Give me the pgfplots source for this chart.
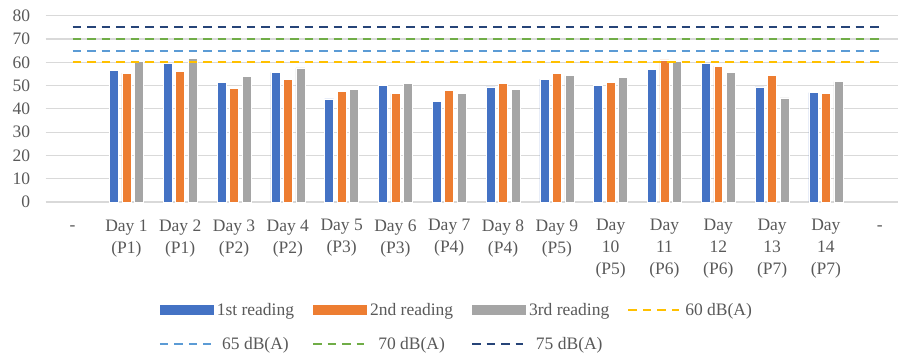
\documentclass[border=0pt]{standalone}
\usepackage{fontspec}
\setmainfont{Liberation Serif}
\usepackage{pgfplots}
\pgfplotsset{compat=1.18}
\definecolor{cBlue}{HTML}{4472C4}
\definecolor{cOrange}{HTML}{ED7D31}
\definecolor{cGray}{HTML}{A5A5A5}
\definecolor{cYellow}{HTML}{FFC000}
\definecolor{cLBlue}{HTML}{5B9BD5}
\definecolor{cGreen}{HTML}{70AD47}
\definecolor{cNavy}{HTML}{264478}
\definecolor{tgray}{HTML}{595959}
\definecolor{grid}{HTML}{D9D9D9}
\pgfplotstableread{
x b o g
1 56.5 55.3 60.3
2 59.5 56.1 61.5
3 51.5 48.9 53.8
4 55.7 52.5 57.6
5 44.3 47.5 48.5
6 50.1 46.5 51.1
7 43.3 47.9 46.5
8 49.4 51.0 48.4
9 52.8 55.2 54.3
10 50.2 51.5 53.4
11 57.0 61.0 60.3
12 59.4 58.4 55.7
13 49.4 54.2 44.7
14 47.0 46.5 51.7
}\readings
\pgfplotsset{
  barstyle/.style={fill=#1, draw=white, line width=0.6bp, ybar, bar width=0.167,
    legend image code/.code={\fill[#1] (0bp,-4.5bp) rectangle (53bp,4.5bp); \path[draw=none,fill=none] (0bp,0bp) -- (55bp,0bp);}},
  limitstyle/.style={draw=#1, line width=2bp, dash pattern=on 8.5bp off 6bp,
    legend image code/.code={\draw[#1, line width=2bp, dash pattern=on 8.5bp off 6bp] (0bp,0bp) -- (51bp,0bp); \path[draw=none,fill=none] (0bp,0bp) -- (55bp,0bp);}},
}
\begin{document}
\begin{tikzpicture}
\begin{axis}[
  scale only axis, width=852.3bp, height=186.3bp,
  xmin=-0.5, xmax=15.34, ymin=0, ymax=80,
  ytick={0,10,...,80},
  xtick={0,...,15},
  xticklabels={{\vphantom{Dy}-}, {Day 1\\(P1)}, {Day 2\\(P1)}, {Day 3\\(P2)}, {Day 4\\(P2)}, {Day 5\\(P3)}, {Day 6\\(P3)}, {Day 7\\(P4)}, {Day 8\\(P4)}, {Day 9\\(P5)}, {Day\\10\\(P5)}, {Day\\11\\(P6)}, {Day\\12\\(P6)}, {Day\\13\\(P7)}, {Day\\14\\(P7)}, {\vphantom{Dy}-}},
  /pgf/number format/assume math mode=true,
  tick label style={font=\fontsize{17.5bp}{22bp}\selectfont, text=tgray},
  xticklabel style={align=center, yshift=-14bp},
  yticklabel style={xshift=-12bp},
  major tick length=0pt,
  axis line style={draw=none},
  ymajorgrids, major grid style={draw=grid, line width=1.2bp},
  clip=false,
  legend columns=4,
  legend style={draw=none, at={(0.1290,-0.52)}, anchor=north west,
    font=\fontsize{17.5bp}{22bp}\selectfont, text=tgray, row sep=17bp,
    /tikz/every even column/.append style={column sep=16bp}},
]
\addplot[barstyle=cBlue, bar shift=-0.232] table[x=x,y=b] {\readings};
\addlegendentry{1st reading}
\addplot[barstyle=cOrange, bar shift=0] table[x=x,y=o] {\readings};
\addlegendentry{2nd reading}
\addplot[barstyle=cGray, bar shift=0.232] table[x=x,y=g] {\readings};
\addlegendentry{3rd reading}
\addplot[limitstyle=cYellow] coordinates {(0,60) (15,60)};
\addlegendentry{60 dB(A)}
\addplot[limitstyle=cLBlue] coordinates {(0,65) (15,65)};
\addlegendentry{65 dB(A)}
\addplot[limitstyle=cGreen] coordinates {(0,70) (15,70)};
\addlegendentry{70 dB(A)}
\addplot[limitstyle=cNavy] coordinates {(0,75) (15,75)};
\addlegendentry{75 dB(A)}
\end{axis}
\pgfresetboundingbox
\useasboundingbox ([xshift=-45.7bp, yshift=-153bp]current axis.south west) rectangle ++(898bp,355bp);
\end{tikzpicture}
\end{document}
